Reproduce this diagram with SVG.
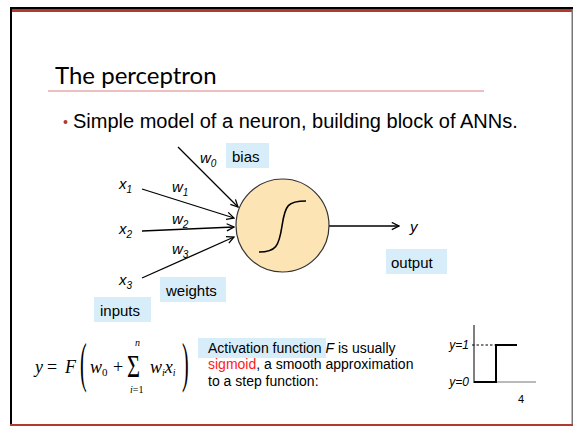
<svg xmlns="http://www.w3.org/2000/svg" width="573" height="426" viewBox="0 0 573 426">
<defs>
<style>
.sans{font-family:"Liberation Sans",Arial,sans-serif;fill:#000}
.it{font-style:italic}
.serif{font-family:"Liberation Serif","Times New Roman",serif;fill:#000}
.lbl{font-size:15px}
.sub{font-size:10px}
.box{fill:#d7eefa}
.edge{stroke:#000;stroke-width:1.3;fill:none;marker-end:url(#ah)}
.fm{font-size:18px}
</style>
<marker id="ah" viewBox="0 0 10 10" refX="9" refY="5" markerWidth="9" markerHeight="9" markerUnits="userSpaceOnUse" orient="auto">
<path d="M1,1 L9,5 L1,9" fill="none" stroke="#000" stroke-width="1.4"/>
</marker>
</defs>
<rect width="573" height="426" fill="#fff"/>
<g id="frame">
<rect x="10" y="7" width="563" height="2" fill="#000"/>
<rect x="10" y="9" width="563" height="3" fill="#b03a2e"/>
<rect x="10" y="7" width="2" height="419" fill="#000"/>
<rect x="571.5" y="9" width="1.5" height="417" fill="#777"/>
<rect x="10" y="424" width="563" height="2" fill="#b03a2e"/>
</g>
<g id="title">
<text x="55" y="84" style="font-family:Lato,'Open Sans',sans-serif;font-size:24px;fill:#000">The perceptron</text>
<line x1="48" y1="91" x2="484" y2="91" stroke="#d98080" stroke-width="1"/>
</g>
<g id="bullet">
<circle cx="65.5" cy="122" r="2" fill="#b03a2e"/>
<text x="73" y="128" class="sans" style="font-size:20px">Simple model of a neuron, building block of ANNs.</text>
</g>
<g id="connectors">
<line class="edge" x1="178" y1="147" x2="238" y2="207"/>
<line class="edge" x1="142" y1="189" x2="234" y2="218"/>
<line class="edge" x1="142" y1="231" x2="234" y2="227"/>
<line class="edge" x1="142" y1="278" x2="234" y2="237"/>
<line class="edge" x1="329" y1="226" x2="399" y2="226"/>
</g>
<g id="neuron">
<circle cx="282.5" cy="225.5" r="46.5" fill="#fde4b4" stroke="#333" stroke-width="1.2"/>
<path d="M259,252 C276,252 279,246 282,226 C285,205 288,201 306,201" fill="none" stroke="#000" stroke-width="1.6"/>
</g>
<g id="inputs-labels">
<text x="119" y="189" class="sans it lbl">x<tspan class="sub" dy="4">1</tspan></text>
<text x="119" y="234" class="sans it lbl">x<tspan class="sub" dy="4">2</tspan></text>
<text x="119" y="285" class="sans it lbl">x<tspan class="sub" dy="4">3</tspan></text>
<text x="200" y="163" class="sans it lbl">w<tspan class="sub" dy="4">0</tspan></text>
<text x="172" y="192" class="sans it lbl">w<tspan class="sub" dy="4">1</tspan></text>
<text x="172" y="224" class="sans it lbl">w<tspan class="sub" dy="4">2</tspan></text>
<text x="172" y="254" class="sans it lbl">w<tspan class="sub" dy="4">3</tspan></text>
<text x="410" y="232" class="sans it lbl">y</text>
</g>
<g id="bias">
<rect class="box" x="226" y="143" width="43" height="25"/>
<text x="232" y="162" class="sans lbl">bias</text>
</g>
<g id="weights">
<rect class="box" x="160" y="277" width="66" height="25"/>
<text x="166" y="296" class="sans lbl">weights</text>
</g>
<g id="inputs">
<rect class="box" x="94" y="297" width="57" height="25"/>
<text x="100" y="316" class="sans lbl">inputs</text>
</g>
<g id="output">
<rect class="box" x="386" y="249" width="61" height="25"/>
<text x="391" y="268" class="sans lbl">output</text>
</g>
<g id="formula">
<text x="35" y="373" class="serif it fm">y</text>
<text x="47" y="373" class="serif fm">=</text>
<text x="65" y="373" class="serif it fm">F</text>
<text class="serif" style="font-size:20px" transform="translate(80,381) scale(1,2.75)">(</text>
<text class="serif" style="font-size:20px" transform="translate(182,381) scale(1,2.75)">)</text>
<text x="90" y="373" class="serif it fm">w<tspan style="font-style:normal;font-size:11px" dy="3">0</tspan></text>
<text x="113" y="373" class="serif fm">+</text>
<text class="serif" style="font-size:28px" transform="translate(127,377) scale(0.8,1.15)">Σ</text>
<text x="135" y="346" class="serif it" style="font-size:10px">n</text>
<text x="130" y="393" class="serif it" style="font-size:10px">i<tspan style="font-style:normal">=1</tspan></text>
<text x="150" y="373" class="serif it fm">w<tspan style="font-size:10px" dy="3">i</tspan><tspan dy="-3">x</tspan><tspan style="font-size:10px" dy="3">i</tspan></text>
</g>
<g id="activation">
<rect class="box" x="198" y="338" width="128" height="20"/>
<text x="208" y="353" class="sans" style="font-size:14px">Activation function <tspan class="it">F</tspan> is usually</text>
<text x="208" y="369" class="sans" style="font-size:14px"><tspan style="fill:#ff1a1a">sigmoid</tspan>, a smooth approximation</text>
<text x="208" y="386" class="sans" style="font-size:14px">to a step function:</text>
</g>
<g id="step">
<line x1="474" y1="325" x2="474" y2="383" stroke="#000" stroke-width="1"/>
<line x1="474" y1="382" x2="536" y2="382" stroke="#777" stroke-width="1.2"/>
<line x1="472" y1="345" x2="496" y2="345" stroke="#000" stroke-width="1" stroke-dasharray="2.5,2"/>
<path d="M474,382 H496 V345 H517" fill="none" stroke="#000" stroke-width="2"/>
<text x="469" y="349" class="sans it" style="font-size:12px" text-anchor="end">y=1</text>
<text x="469" y="386" class="sans it" style="font-size:12px" text-anchor="end">y=0</text>
</g>
<text x="518" y="403" class="sans" style="font-size:11px">4</text>
</svg>
